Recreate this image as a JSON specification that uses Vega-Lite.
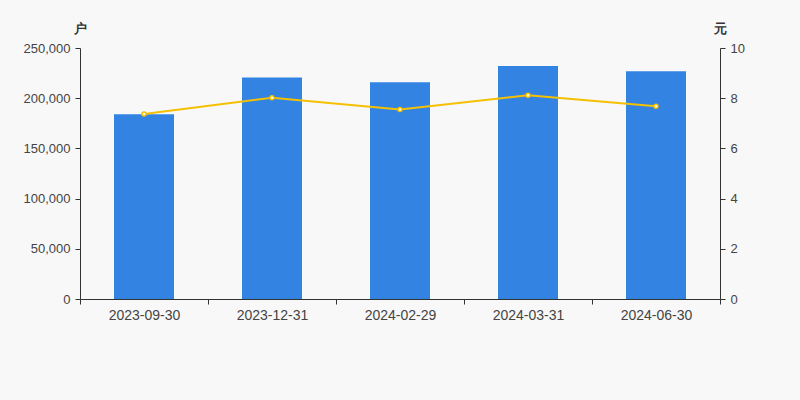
{
  "$schema": "https://vega.github.io/schema/vega-lite/v6.json",
  "width": 640,
  "height": 251,
  "autosize": {"type": "none"},
  "padding": {"left": 80, "top": 48, "right": 80, "bottom": 101},
  "background": "#f8f8f8",
  "config": {
    "view": {"stroke": null},
    "font": "Liberation Sans",
    "axis": {"labelFont": "Liberation Sans", "labelFontSize": 13, "labelColor": "#444444", "domainColor": "#333333", "tickColor": "#333333", "grid": false, "titleFont": "Liberation Sans", "titleFontSize": 13, "titleFontWeight": "bold", "titleColor": "#333333"}
  },
  "data": {
    "values": [
      {"date": "2023-09-30", "households": 184000, "price": 7.37},
      {"date": "2023-12-31", "households": 220500, "price": 8.02},
      {"date": "2024-02-29", "households": 215800, "price": 7.55},
      {"date": "2024-03-31", "households": 232000, "price": 8.12},
      {"date": "2024-06-30", "households": 226800, "price": 7.68}
    ]
  },
  "encoding": {
    "x": {
      "field": "date", "type": "ordinal", "sort": null,
      "scale": {"paddingInner": 0, "paddingOuter": 0},
      "axis": {"title": null, "labelAngle": 0, "labelPadding": 4, "labelFontSize": 14, "tickBand": "extent", "tickSize": 5, "domainWidth": 1}
    }
  },
  "layer": [
    {
      "mark": {"type": "bar", "color": "#3383e3", "width": 60},
      "encoding": {
        "y": {
          "field": "households", "type": "quantitative",
          "scale": {"domain": [0, 250000], "nice": false},
          "axis": {"title": "户", "titleAngle": 0, "titleX": 0, "titleY": -20, "titleAlign": "center", "titleBaseline": "middle", "values": [0, 50000, 100000, 150000, 200000, 250000], "format": ",d", "tickSize": 5, "labelPadding": 5}
        }
      }
    },
    {
      "mark": {"type": "line", "color": "#f5c000", "strokeWidth": 2, "point": {"filled": true, "fill": "#ffffff", "stroke": "#f5c000", "strokeWidth": 1.5, "size": 16}},
      "encoding": {
        "y": {
          "field": "price", "type": "quantitative",
          "scale": {"domain": [0, 10], "nice": false},
          "axis": {"title": "元", "orient": "right", "titleAngle": 0, "titleX": 0, "titleY": -20, "titleAlign": "center", "titleBaseline": "middle", "values": [0, 2, 4, 6, 8, 10], "tickSize": 5, "labelPadding": 5}
        }
      }
    }
  ],
  "resolve": {"scale": {"y": "independent"}}
}
